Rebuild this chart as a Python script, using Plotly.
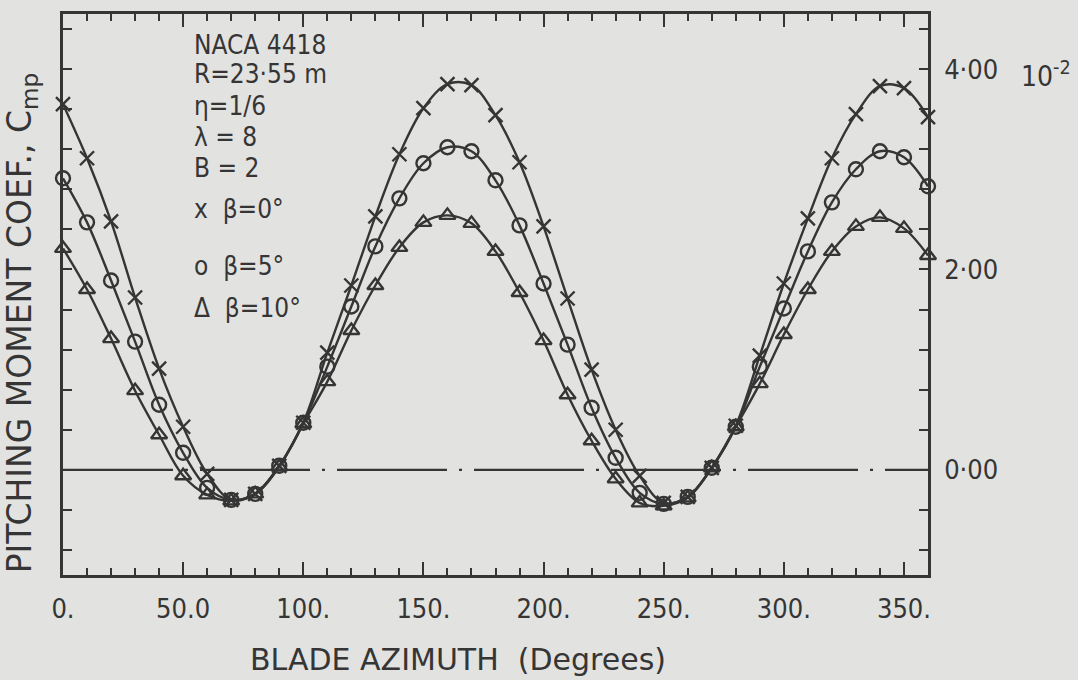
import plotly.graph_objects as go

# ---------------- data ----------------
azimuth = list(range(0, 361, 10))
beta0 = [3.65, 3.11, 2.48, 1.72, 1.01, 0.43, -0.04, -0.30, -0.24, 0.04, 0.47, 1.17,
         1.84, 2.53, 3.15, 3.61, 3.85, 3.84, 3.54, 3.07, 2.43, 1.71, 1.00, 0.40,
         -0.06, -0.33, -0.27, 0.02, 0.44, 1.14, 1.86, 2.51, 3.11, 3.55, 3.83, 3.81, 3.52]
beta5 = [2.91, 2.47, 1.89, 1.28, 0.65, 0.17, -0.18, -0.30, -0.24, 0.04, 0.47, 1.03,
         1.63, 2.23, 2.71, 3.06, 3.22, 3.18, 2.89, 2.44, 1.86, 1.25, 0.62, 0.12,
         -0.23, -0.34, -0.27, 0.02, 0.43, 1.03, 1.61, 2.18, 2.67, 3.00, 3.18, 3.12, 2.83]
beta10 = [2.21, 1.80, 1.31, 0.79, 0.35, -0.06, -0.25, -0.31, -0.24, 0.03, 0.46, 0.88,
          1.39, 1.84, 2.22, 2.47, 2.54, 2.46, 2.18, 1.77, 1.29, 0.75, 0.29, -0.09,
          -0.33, -0.36, -0.28, 0.02, 0.43, 0.86, 1.35, 1.80, 2.18, 2.43, 2.52, 2.41, 2.14]

x_tickvals = [0, 50, 100, 150, 200, 250, 300, 350]
x_ticktext = ["0.", "50.0", "100.", "150.", "200.", "250.", "300.", "350."]
y_tickvals = [0, 2, 4]
y_ticktext = ["0·00", "2·00", "4·00"]

series = [
    ("β = 0°", beta0, "x-thin-open"),
    ("β = 5°", beta5, "circle-open"),
    ("β = 10°", beta10, "triangle-up-open"),
]

INK = "#353535"
PAPER = "#e2e2e0"
FONT = "DejaVu Sans"
CFONT = "DejaVu Sans Condensed, DejaVu Sans"

# plot area in pixels
L, R, T, B = 63, 928, 11, 575
W, H = 1078, 680


def px(x):
    return (x - L) / (R - L)


def py(y):
    return (B - y) / (B - T)


fig = go.Figure()
for name, vals, sym in series:
    fig.add_trace(go.Scatter(
        x=azimuth, y=vals, name=name, mode="lines+markers",
        line=dict(color=INK, width=2.4, shape="spline", smoothing=1.0),
        marker=dict(symbol=sym, size=14, color=INK, line=dict(color=INK, width=2.4)),
        cliponaxis=False, showlegend=False,
    ))

# zero reference line (dash-dot)
fig.add_shape(type="line", x0=0, x1=360, y0=0, y1=0, xref="x", yref="y",
              line=dict(color=INK, width=2.2, dash="110px,12px,3px,12px"), layer="below")

fig.update_layout(
    width=W, height=H,
    margin=dict(l=L, r=W - R, t=T, b=H - B),
    paper_bgcolor=PAPER, plot_bgcolor=PAPER,
    font=dict(family=FONT, color=INK),
    xaxis=dict(
        range=[0, 360], showgrid=False, zeroline=False,
        showline=True, linecolor=INK, linewidth=2.5, mirror="ticks",
        tickmode="array", tickvals=x_tickvals, ticktext=x_ticktext,
        ticks="inside", ticklen=13, tickwidth=2, tickcolor=INK,
        tickfont=dict(size=27, family=CFONT, color=INK), ticklabelstandoff=8,
        minor=dict(tickmode="linear", dtick=10, tick0=0, ticks="inside", ticklen=7,
                   tickwidth=2, tickcolor=INK, showgrid=False),
    ),
    yaxis=dict(
        range=[-1.05, 4.55], showgrid=False, zeroline=False, side="right",
        showline=True, linecolor=INK, linewidth=2.5, mirror="ticks",
        tickmode="array", tickvals=y_tickvals, ticktext=y_ticktext,
        ticks="inside", ticklen=9, tickwidth=2, tickcolor=INK,
        tickfont=dict(size=27, family=CFONT, color=INK), ticklabelstandoff=8,
        minor=dict(tickmode="linear", dtick=0.4, tick0=0, ticks="inside", ticklen=9,
                   tickwidth=2, tickcolor=INK, showgrid=False),
    ),
)

ann = [
    ("NACA 4418", 192, 42),
    ("R=23·55 m", 192, 71),
    ("η=1/6", 192, 103),
    ("λ = 8", 192, 135),
    ("B = 2", 192, 166),
    ("x  β=0°", 192, 207),
    ("o  β=5°", 192, 264),
    ("Δ  β=10°", 192, 307),
]
for text, x, y in ann:
    fig.add_annotation(text=text, x=px(x), y=py(y), xref="paper", yref="paper",
                       xanchor="left", yanchor="middle", showarrow=False,
                       font=dict(size=26, family=CFONT, color=INK))

fig.add_annotation(text="10<sup>-2</sup>", x=px(1019), y=py(72), xref="paper", yref="paper",
                   xanchor="left", yanchor="middle", showarrow=False,
                   font=dict(size=28, family=CFONT, color=INK))
fig.add_annotation(text="BLADE AZIMUTH  (Degrees)", x=px(458), y=py(660), xref="paper",
                   yref="paper", xanchor="center", yanchor="middle", showarrow=False,
                   font=dict(size=30, family=FONT, color=INK))
fig.add_annotation(text="PITCHING MOMENT COEF., C<sub>mp</sub>", x=px(21), y=py(322),
                   xref="paper", yref="paper", xanchor="center", yanchor="middle",
                   textangle=-90, showarrow=False,
                   font=dict(size=33, family=FONT, color=INK))

fig.write_html("out.html")
